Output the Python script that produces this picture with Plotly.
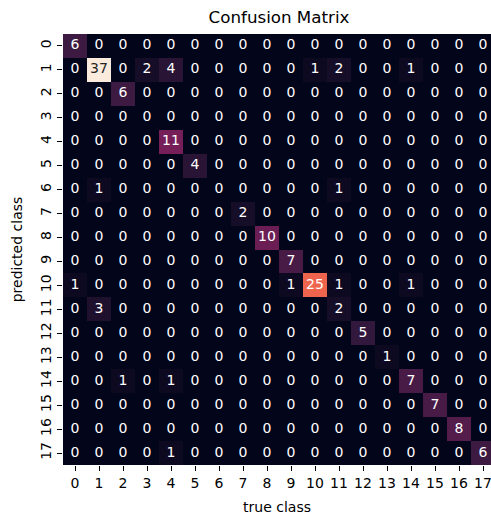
import plotly.graph_objects as go

classes = list(range(18))
tick_labels = [str(c) for c in classes]

# rows = predicted class, columns = true class
row_0 = [6, 0, 0, 0, 0, 0, 0, 0, 0, 0, 0, 0, 0, 0, 0, 0, 0, 0]
row_1 = [0, 37, 0, 2, 4, 0, 0, 0, 0, 0, 1, 2, 0, 0, 1, 0, 0, 0]
row_2 = [0, 0, 6, 0, 0, 0, 0, 0, 0, 0, 0, 0, 0, 0, 0, 0, 0, 0]
row_3 = [0, 0, 0, 0, 0, 0, 0, 0, 0, 0, 0, 0, 0, 0, 0, 0, 0, 0]
row_4 = [0, 0, 0, 0, 11, 0, 0, 0, 0, 0, 0, 0, 0, 0, 0, 0, 0, 0]
row_5 = [0, 0, 0, 0, 0, 4, 0, 0, 0, 0, 0, 0, 0, 0, 0, 0, 0, 0]
row_6 = [0, 1, 0, 0, 0, 0, 0, 0, 0, 0, 0, 1, 0, 0, 0, 0, 0, 0]
row_7 = [0, 0, 0, 0, 0, 0, 0, 2, 0, 0, 0, 0, 0, 0, 0, 0, 0, 0]
row_8 = [0, 0, 0, 0, 0, 0, 0, 0, 10, 0, 0, 0, 0, 0, 0, 0, 0, 0]
row_9 = [0, 0, 0, 0, 0, 0, 0, 0, 0, 7, 0, 0, 0, 0, 0, 0, 0, 0]
row_10 = [1, 0, 0, 0, 0, 0, 0, 0, 0, 1, 25, 1, 0, 0, 1, 0, 0, 0]
row_11 = [0, 3, 0, 0, 0, 0, 0, 0, 0, 0, 0, 2, 0, 0, 0, 0, 0, 0]
row_12 = [0, 0, 0, 0, 0, 0, 0, 0, 0, 0, 0, 0, 5, 0, 0, 0, 0, 0]
row_13 = [0, 0, 0, 0, 0, 0, 0, 0, 0, 0, 0, 0, 0, 1, 0, 0, 0, 0]
row_14 = [0, 0, 1, 0, 1, 0, 0, 0, 0, 0, 0, 0, 0, 0, 7, 0, 0, 0]
row_15 = [0, 0, 0, 0, 0, 0, 0, 0, 0, 0, 0, 0, 0, 0, 0, 7, 0, 0]
row_16 = [0, 0, 0, 0, 0, 0, 0, 0, 0, 0, 0, 0, 0, 0, 0, 0, 8, 0]
row_17 = [0, 0, 0, 0, 1, 0, 0, 0, 0, 0, 0, 0, 0, 0, 0, 0, 0, 6]

matrix = [row_0, row_1, row_2, row_3, row_4, row_5, row_6, row_7, row_8,
          row_9, row_10, row_11, row_12, row_13, row_14, row_15, row_16, row_17]

rocket = [
    [0.0, "#03051A"],
    [0.143, "#35193E"],
    [0.286, "#701F57"],
    [0.429, "#AD1759"],
    [0.571, "#E13342"],
    [0.714, "#F37651"],
    [0.857, "#F6B48F"],
    [1.0, "#FAEBDD"],
]

zmax = max(max(r) for r in matrix)

fig = go.Figure()
fig.add_trace(go.Heatmap(
    z=matrix, x=classes, y=classes,
    colorscale=rocket, zmin=0, zmax=zmax,
    showscale=False, hoverinfo="skip",
))

xs, ys, txt, cols = [], [], [], []
for i, row in enumerate(matrix):
    for j, v in enumerate(row):
        xs.append(j)
        ys.append(i)
        txt.append(str(v))
        cols.append("#262626" if v / zmax > 0.85 else "#FFFFFF")

fig.add_trace(go.Scatter(
    x=xs, y=ys, text=txt, mode="text",
    textfont=dict(family="DejaVu Sans", size=14, color=cols),
    textposition="middle center", hoverinfo="skip", showlegend=False,
))

fig.update_layout(
    width=491, height=517,
    margin=dict(l=63, r=0, t=34, b=52),
    paper_bgcolor="white", plot_bgcolor="white",
    font=dict(family="DejaVu Sans", size=14, color="#000000"),
    title=dict(text="Confusion Matrix", x=(63 + 495) / 2 / 491, xanchor="center",
               y=1 - 17 / 517, yanchor="middle",
               font=dict(size=16.7, family="DejaVu Sans", color="#000000")),
    showlegend=False,
)
fig.update_xaxes(
    range=[-0.5, -0.5 + 428 / 24], tickmode="array", tickvals=classes, ticktext=tick_labels,
    ticks="outside", ticklen=5, tickwidth=1, tickcolor="#000000",
    showgrid=False, zeroline=False, showline=False, automargin=False,
    ticklabeloverflow="allow",
    title=dict(text="true class", font=dict(size=14), standoff=12),
    tickfont=dict(size=14),
)
fig.update_yaxes(
    range=[17.5, -0.5], tickmode="array", tickvals=classes, ticktext=tick_labels,
    ticks="outside", ticklen=5, tickwidth=1, tickcolor="#000000", tickangle=-90,
    showgrid=False, zeroline=False, showline=False, automargin=False,
    ticklabeloverflow="allow",
    title=dict(text="predicted class", font=dict(size=14), standoff=12),
    tickfont=dict(size=14),
)

fig.write_html(
    "out.html",
    config={"displayModeBar": False},
    post_script="document.body.style.margin='0px';document.body.style.overflow='hidden';",
)
